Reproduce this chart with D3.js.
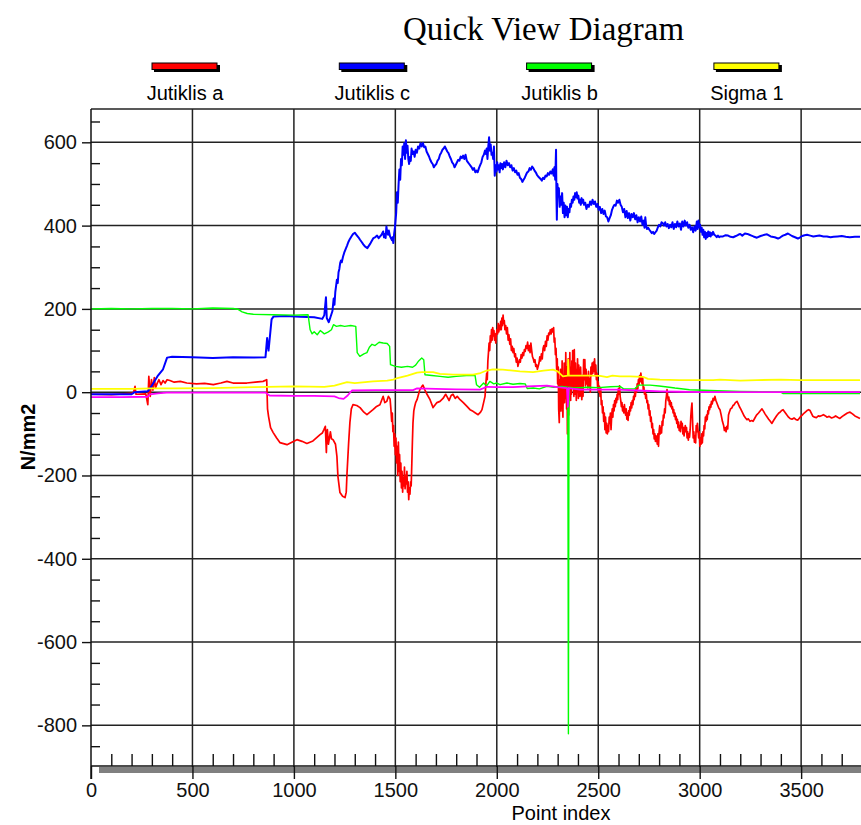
<!DOCTYPE html>
<html>
<head>
<meta charset="utf-8">
<title>Quick View Diagram</title>
<script src="https://cdnjs.cloudflare.com/ajax/libs/d3/7.8.5/d3.min.js"></script>
<style>
  body { margin: 0; background: #ffffff; }
  svg { display: block; font-family: Arial, "Liberation Sans", sans-serif; }
</style>
</head>
<body>
<script>
// Values, each pair is [point index, N/mm2]
var jutiklisA = [[0,-5],[100,-6],[200,-3],[210,0],[217,14],[222,-5],[270,-4],[280,-30],[285,38],[292,-10],[298,30],[305,5],[312,35],[318,10],[325,20],[335,30],[345,18],[355,28],[365,22],[375,30],[389,28],[410,24],[440,26],[472,22],[520,20],[560,21],[603,18],[640,22],[670,26],[700,22],[768,22],[810,24],[848,26],[866,30],[870,-40],[875,-58],[885,-85],[898,-97],[915,-110],[931,-121],[966,-126],[990,-120],[1015,-114],[1040,-118],[1064,-123],[1094,-117],[1115,-108],[1129,-102],[1140,-98],[1148,-90],[1155,-82],[1158,-120],[1160,-145],[1163,-95],[1165,-90],[1170,-125],[1175,-110],[1180,-95],[1185,-112],[1193,-114],[1205,-125],[1212,-154],[1217,-202],[1227,-241],[1240,-250],[1252,-253],[1258,-240],[1262,-193],[1270,-120],[1276,-73],[1283,-40],[1291,-30],[1310,-32],[1326,-37],[1345,-48],[1360,-54],[1375,-48],[1390,-42],[1405,-35],[1424,-30],[1432,-20],[1440,-10],[1448,-25],[1458,-22],[1466,-10],[1474,-16],[1478,-40],[1482,-70],[1485,-50],[1488,-95],[1491,-80],[1494,-130],[1497,-100],[1500,-150],[1503,-110],[1506,-170],[1509,-130],[1512,-200],[1515,-120],[1518,-190],[1521,-150],[1524,-215],[1527,-170],[1530,-230],[1533,-190],[1536,-240],[1539,-205],[1542,-225],[1545,-180],[1548,-232],[1551,-200],[1554,-220],[1557,-190],[1560,-240],[1563,-215],[1566,-258],[1569,-230],[1572,-245],[1575,-215],[1578,-225],[1581,-175],[1584,-120],[1587,-73],[1591,-45],[1595,-35],[1600,-25],[1607,-18],[1620,5],[1631,14],[1636,17],[1646,5],[1656,-5],[1671,-18],[1686,-37],[1705,-25],[1720,-22],[1735,-15],[1748,-5],[1754,-10],[1765,-20],[1775,-8],[1784,-5],[1795,-15],[1805,-10],[1819,-18],[1835,-25],[1853,-34],[1868,-42],[1883,-46],[1895,-50],[1908,-54],[1920,-48],[1927,-42],[1935,-25],[1942,-10],[1946,20],[1950,45],[1953,30],[1956,75],[1959,95],[1962,118],[1965,100],[1968,135],[1971,120],[1974,150],[1977,125],[1980,155],[1983,135],[1986,148],[1989,125],[1992,140],[1995,118],[1998,138],[2001,150],[2004,140],[2007,165],[2010,145],[2013,160],[2016,150],[2019,170],[2022,150],[2025,178],[2028,160],[2031,185],[2034,165],[2037,172],[2040,150],[2044,160],[2048,140],[2052,155],[2056,125],[2060,138],[2064,115],[2068,128],[2072,100],[2076,110],[2080,95],[2084,105],[2088,85],[2092,92],[2096,72],[2100,82],[2104,62],[2108,70],[2112,78],[2116,72],[2120,90],[2124,82],[2128,95],[2132,88],[2136,102],[2140,98],[2144,112],[2148,105],[2152,120],[2156,100],[2160,112],[2164,95],[2168,118],[2172,100],[2176,85],[2180,80],[2184,72],[2188,78],[2192,62],[2196,66],[2200,55],[2204,62],[2208,70],[2212,85],[2216,75],[2220,92],[2224,80],[2228,105],[2232,112],[2236,100],[2240,122],[2244,110],[2248,135],[2252,125],[2256,142],[2260,138],[2264,150],[2268,140],[2272,152],[2276,145],[2280,155],[2283,120],[2286,130],[2289,90],[2292,105],[2295,55],[2298,80],[2300,20],[2303,60],[2305,-40],[2308,-73],[2310,30],[2312,-20],[2314,55],[2316,-45],[2318,40],[2320,-10],[2322,75],[2324,-30],[2326,-60],[2328,40],[2330,-5],[2332,70],[2334,-25],[2336,50],[2338,-15],[2340,95],[2342,20],[2344,-40],[2346,60],[2348,-100],[2350,-30],[2352,80],[2354,-55],[2356,30],[2358,-10],[2360,95],[2362,20],[2364,-20],[2366,60],[2368,-5],[2370,75],[2372,10],[2374,100],[2376,25],[2378,85],[2380,-10],[2382,102],[2384,40],[2386,-5],[2388,70],[2390,10],[2392,-20],[2394,55],[2396,0],[2398,80],[2400,20],[2402,-15],[2404,65],[2406,0],[2408,45],[2410,-10],[2413,60],[2416,20],[2419,-18],[2422,40],[2425,-10],[2428,78],[2431,30],[2434,78],[2437,15],[2440,55],[2443,20],[2446,38],[2449,10],[2452,50],[2455,14],[2458,30],[2461,0],[2464,60],[2467,40],[2470,70],[2473,45],[2476,72],[2479,50],[2482,80],[2485,40],[2488,65],[2491,30],[2494,45],[2497,10],[2500,25],[2503,0],[2506,14],[2509,-10],[2512,10],[2515,-30],[2518,-20],[2521,-50],[2524,-35],[2527,-70],[2530,-50],[2533,-90],[2536,-60],[2539,-98],[2542,-75],[2545,-100],[2548,-80],[2551,-95],[2554,-60],[2557,-75],[2560,-50],[2563,-90],[2566,-60],[2569,-40],[2572,-60],[2575,-30],[2578,-45],[2581,-20],[2584,-35],[2587,-15],[2590,-25],[2593,-5],[2596,-18],[2599,8],[2602,-5],[2605,15],[2608,-10],[2611,-20],[2614,-35],[2617,-25],[2620,-45],[2623,-35],[2626,-50],[2629,-30],[2632,-45],[2635,-55],[2638,-40],[2641,-65],[2644,-50],[2647,-68],[2650,-45],[2653,-55],[2656,-35],[2659,-45],[2662,-25],[2665,-38],[2668,-20],[2671,-30],[2674,-10],[2677,-18],[2680,0],[2683,-10],[2686,10],[2689,0],[2692,20],[2695,8],[2698,30],[2701,18],[2704,40],[2707,25],[2710,46],[2713,30],[2716,20],[2719,35],[2722,5],[2725,12],[2728,-5],[2731,2],[2734,-15],[2737,-5],[2740,-25],[2743,-20],[2746,-40],[2749,-30],[2752,-55],[2755,-45],[2758,-70],[2761,-60],[2764,-85],[2767,-75],[2770,-100],[2773,-90],[2776,-112],[2779,-100],[2782,-118],[2785,-105],[2788,-110],[2791,-125],[2794,-100],[2797,-130],[2800,-95],[2803,-80],[2806,-100],[2809,-85],[2812,-98],[2815,-70],[2818,-80],[2821,-55],[2824,-62],[2827,-40],[2830,-50],[2833,-20],[2836,-10],[2839,6],[2842,-10],[2845,-20],[2848,-12],[2851,-30],[2854,-20],[2857,-35],[2860,-25],[2863,-40],[2866,-35],[2869,-50],[2872,-42],[2875,-58],[2878,-50],[2881,-66],[2884,-58],[2887,-75],[2890,-65],[2893,-85],[2896,-72],[2899,-92],[2902,-80],[2905,-95],[2908,-70],[2911,-85],[2914,-75],[2917,-100],[2920,-85],[2923,-105],[2926,-90],[2929,-80],[2932,-95],[2935,-85],[2938,-110],[2941,-95],[2944,-115],[2947,-100],[2950,-108],[2953,-90],[2956,-60],[2959,-40],[2962,-26],[2965,-70],[2968,-110],[2971,-95],[2974,-120],[2977,-105],[2980,-122],[2983,-80],[2986,-95],[2989,-75],[2992,-92],[2995,-110],[2998,-95],[3001,-130],[3004,-110],[3007,-125],[3010,-100],[3013,-122],[3016,-95],[3019,-105],[3022,-80],[3025,-88],[3028,-60],[3031,-70],[3034,-55],[3037,-66],[3040,-45],[3043,-52],[3046,-35],[3049,-42],[3052,-30],[3055,-36],[3058,-22],[3062,-28],[3066,-15],[3070,-20],[3075,-10],[3080,-20],[3088,-30],[3094,-38],[3100,-42],[3106,-55],[3112,-70],[3118,-80],[3122,-92],[3126,-85],[3130,-95],[3134,-82],[3138,-88],[3142,-55],[3146,-48],[3152,-40],[3158,-38],[3164,-32],[3170,-30],[3176,-25],[3184,-22],[3190,-28],[3196,-35],[3202,-40],[3208,-46],[3214,-52],[3220,-58],[3226,-62],[3233,-66],[3240,-64],[3248,-70],[3256,-68],[3263,-70],[3272,-62],[3280,-55],[3290,-50],[3300,-44],[3307,-40],[3315,-46],[3322,-52],[3330,-58],[3340,-65],[3348,-70],[3356,-75],[3364,-68],[3372,-62],[3380,-56],[3390,-50],[3396,-48],[3404,-44],[3411,-42],[3420,-48],[3430,-55],[3438,-60],[3445,-63],[3455,-65],[3465,-62],[3475,-66],[3484,-67],[3495,-60],[3505,-55],[3515,-50],[3522,-47],[3529,-44],[3537,-42],[3544,-44],[3552,-52],[3558,-58],[3566,-60],[3575,-61],[3585,-57],[3593,-58],[3602,-56],[3610,-54],[3620,-57],[3627,-60],[3638,-58],[3650,-62],[3660,-60],[3670,-57],[3680,-60],[3691,-63],[3703,-58],[3715,-54],[3728,-50],[3741,-48],[3753,-52],[3765,-57],[3778,-60],[3790,-63]];

var jutiklisC = [[0,-5],[200,-5],[215,0],[280,2],[295,12],[330,40],[355,55],[375,83],[400,85],[500,84],[600,82],[700,84],[800,83],[860,84],[868,130],[875,100],[890,175],[900,182],[960,183],[1030,181],[1100,180],[1140,176],[1150,185],[1158,228],[1162,178],[1172,168],[1180,180],[1190,195],[1196,225],[1200,210],[1204,240],[1208,255],[1212,270],[1216,262],[1220,288],[1224,296],[1228,310],[1232,316],[1236,312],[1242,325],[1248,335],[1256,345],[1262,352],[1268,360],[1276,368],[1285,375],[1292,380],[1300,383],[1308,378],[1318,372],[1326,366],[1335,360],[1342,355],[1350,350],[1362,346],[1370,352],[1378,358],[1385,364],[1392,370],[1400,372],[1410,376],[1418,370],[1425,374],[1432,378],[1440,386],[1444,372],[1448,380],[1452,370],[1456,398],[1460,384],[1464,378],[1468,388],[1474,374],[1478,370],[1483,365],[1486,372],[1490,358],[1494,380],[1498,395],[1504,430],[1508,480],[1512,455],[1516,500],[1520,535],[1524,510],[1528,560],[1532,545],[1536,590],[1540,570],[1544,598],[1548,560],[1552,605],[1556,575],[1560,592],[1564,560],[1568,548],[1572,565],[1576,555],[1580,585],[1585,572],[1590,578],[1595,565],[1600,582],[1606,575],[1612,590],[1618,585],[1624,598],[1630,590],[1636,598],[1642,588],[1648,590],[1654,578],[1660,572],[1666,566],[1672,558],[1678,552],[1684,548],[1690,540],[1696,545],[1702,548],[1708,556],[1714,560],[1720,570],[1726,575],[1732,582],[1738,585],[1744,590],[1750,584],[1756,578],[1762,574],[1768,566],[1774,560],[1780,552],[1786,548],[1792,540],[1798,546],[1804,552],[1810,558],[1816,556],[1822,566],[1828,562],[1834,568],[1840,560],[1846,570],[1852,556],[1858,552],[1864,548],[1870,544],[1876,540],[1882,534],[1888,538],[1894,528],[1900,532],[1906,528],[1912,538],[1918,545],[1924,552],[1930,565],[1936,570],[1942,580],[1946,572],[1950,585],[1954,560],[1958,590],[1962,612],[1966,580],[1970,595],[1974,570],[1978,575],[1982,560],[1986,590],[1990,520],[1994,545],[1998,530],[2002,552],[2006,535],[2010,545],[2014,528],[2018,550],[2022,538],[2026,548],[2030,535],[2036,552],[2042,540],[2048,556],[2054,545],[2060,550],[2066,540],[2072,545],[2078,532],[2084,538],[2090,528],[2096,532],[2102,522],[2108,526],[2114,515],[2120,512],[2126,505],[2132,510],[2138,515],[2144,522],[2150,528],[2156,530],[2162,538],[2168,534],[2174,542],[2180,538],[2186,532],[2192,528],[2198,522],[2204,518],[2210,515],[2216,512],[2222,508],[2228,515],[2234,512],[2240,520],[2246,518],[2252,526],[2258,522],[2264,530],[2270,525],[2276,535],[2280,520],[2284,540],[2288,510],[2292,582],[2294,470],[2296,414],[2299,500],[2302,470],[2306,490],[2310,445],[2314,470],[2318,450],[2322,478],[2326,430],[2330,455],[2334,420],[2338,448],[2342,425],[2346,445],[2350,420],[2354,440],[2358,432],[2362,452],[2366,445],[2370,462],[2374,455],[2378,470],[2382,462],[2386,478],[2390,468],[2394,480],[2398,465],[2402,472],[2406,455],[2410,462],[2414,450],[2418,466],[2422,455],[2426,462],[2430,450],[2436,455],[2442,440],[2448,450],[2454,445],[2460,458],[2466,450],[2472,462],[2478,452],[2484,458],[2490,445],[2496,452],[2502,438],[2508,445],[2514,430],[2520,440],[2526,428],[2532,436],[2538,422],[2544,420],[2550,410],[2556,418],[2562,425],[2568,438],[2574,445],[2580,450],[2586,448],[2592,460],[2598,455],[2604,462],[2610,450],[2616,445],[2622,432],[2628,440],[2634,420],[2640,435],[2646,418],[2652,430],[2658,412],[2664,428],[2670,420],[2676,430],[2682,415],[2688,425],[2694,408],[2700,420],[2706,410],[2712,422],[2718,402],[2724,412],[2728,395],[2732,420],[2736,400],[2740,392],[2746,395],[2752,390],[2758,386],[2764,382],[2770,385],[2776,380],[2782,384],[2788,388],[2794,396],[2800,402],[2806,398],[2812,408],[2818,406],[2824,400],[2830,408],[2836,398],[2842,404],[2848,394],[2854,402],[2860,396],[2866,408],[2872,392],[2878,404],[2884,396],[2890,410],[2896,398],[2902,405],[2908,390],[2914,410],[2920,398],[2926,412],[2932,400],[2938,408],[2944,395],[2950,402],[2956,390],[2962,396],[2968,384],[2974,398],[2980,388],[2986,410],[2990,392],[2994,412],[2998,396],[3002,402],[3006,385],[3010,395],[3014,378],[3018,390],[3022,372],[3026,385],[3030,368],[3034,382],[3038,372],[3042,386],[3046,375],[3050,384],[3054,374],[3058,382],[3062,378],[3066,385],[3072,378],[3078,376],[3084,372],[3090,376],[3096,372],[3102,374],[3115,374],[3128,377],[3140,376],[3152,373],[3165,372],[3178,375],[3190,378],[3200,380],[3210,376],[3223,381],[3235,380],[3245,378],[3255,376],[3265,374],[3282,371],[3300,375],[3320,378],[3332,379],[3350,374],[3370,372],[3386,369],[3398,372],[3410,376],[3422,378],[3435,381],[3445,378],[3455,375],[3470,372],[3484,369],[3495,372],[3505,375],[3517,377],[3529,378],[3545,376],[3560,374],[3575,375],[3590,376],[3610,374],[3627,374],[3645,372],[3660,373],[3680,374],[3700,375],[3720,373],[3740,372],[3765,373],[3790,373]];

var jutiklisB = [[0,200],[100,201],[200,200],[300,201],[400,201],[500,200],[600,202],[700,201],[725,199],[745,193],[770,189],[800,187],[900,186],[1000,185],[1070,186],[1080,150],[1090,140],[1100,145],[1115,138],[1130,148],[1150,140],[1170,145],[1185,150],[1195,162],[1210,158],[1230,160],[1250,158],[1280,160],[1305,158],[1312,95],[1325,86],[1345,92],[1360,95],[1372,108],[1385,115],[1400,112],[1420,120],[1440,118],[1460,117],[1472,110],[1476,66],[1500,62],[1530,60],[1560,62],[1585,60],[1600,65],[1615,75],[1630,82],[1640,78],[1646,42],[1680,40],[1720,38],[1760,36],[1800,38],[1850,40],[1893,40],[1900,18],[1915,12],[1935,22],[1950,15],[1966,26],[1985,20],[2000,22],[2016,18],[2050,22],[2080,19],[2114,21],[2140,20],[2150,9],[2180,10],[2210,8],[2247,14],[2280,12],[2320,14],[2350,12],[2353,-820],[2356,12],[2380,10],[2410,11],[2450,12],[2500,11],[2560,13],[2607,14],[2625,8],[2680,8],[2700,17],[2755,17],[2800,15],[2850,12],[2878,10],[2950,6],[3050,4],[3199,2],[3300,1],[3400,0],[3410,-3],[3600,-3],[3790,-3]];

var sigma1 = [[0,8],[200,8],[300,9],[400,9],[600,10],[800,12],[1000,14],[1150,13],[1200,16],[1262,24],[1300,22],[1390,26],[1460,28],[1490,30],[1510,34],[1560,40],[1607,47],[1631,48],[1686,48],[1720,44],[1784,42],[1883,42],[1920,46],[1950,52],[1981,55],[2030,54],[2080,52],[2114,50],[2179,48],[2230,52],[2277,54],[2300,50],[2326,38],[2350,40],[2352,78],[2355,40],[2410,40],[2460,40],[2509,39],[2543,36],[2570,40],[2607,38],[2656,38],[2720,37],[2745,32],[2804,30],[2900,29],[3066,29],[3100,30],[3200,28],[3282,29],[3400,30],[3494,29],[3600,29],[3790,29]];

// fifth trace, not in the legend
var magentaTrace = [[0,-12],[150,-12],[280,-11],[290,-5],[330,-3],[373,-1],[500,-1],[700,-1],[860,-1],[880,-8],[1000,-9],[1100,-9],[1200,-10],[1220,-14],[1245,-16],[1265,-8],[1286,4],[1400,5],[1500,5],[1587,5],[1607,9],[1700,8],[1800,7],[1917,6],[1952,13],[2000,12],[2080,12],[2150,14],[2247,16],[2300,12],[2346,10],[2350,-35],[2355,10],[2410,6],[2500,6],[2600,6],[2700,4],[2804,2],[2900,1],[3000,0],[3200,0],[3400,0],[3790,0]];

var legendNames = ["Jutiklis a", "Jutiklis c", "Jutiklis b", "Sigma 1"];
var xTicks = [0, 500, 1000, 1500, 2000, 2500, 3000, 3500];
var yTicks = [-800, -600, -400, -200, 0, 200, 400, 600];

window.onload = drawChart();

function drawChart(){

  var width = 861,
      height = 825;

  // plot frame in pixels
  var left = 91, right = 862, top = 109, bottom = 767;

  var svg = d3.select("body")
    .append("svg")
    .attr("width", width)
    .attr("height", height);

  var x = d3.scaleLinear().domain([0, 3800]).range([left, right]);
  var y = d3.scaleLinear().domain([-900, 680]).range([bottom, top]);

  // plain labels: no thousands comma, ascii minus
  var plain = function(d){ return String(d); };

  // title
  svg.append("text")
    .attr("x", 403)
    .attr("y", 40)
    .attr("textLength", 281)
    .attr("lengthAdjust", "spacingAndGlyphs")
    .style("font-family", "'Liberation Serif', 'Times New Roman', serif")
    .style("font-size", "34px")
    .text("Quick View Diagram");

  var series = [
    {name: legendNames[0], values: jutiklisA, color: "#ff0000", w: 1.7},
    {name: legendNames[1], values: jutiklisC, color: "#0000ff", w: 2},
    {name: legendNames[2], values: jutiklisB, color: "#00ff00", w: 1.4},
    {name: legendNames[3], values: sigma1, color: "#ffff00", w: 1.8},
    {name: null, values: magentaTrace, color: "#ff00ff", w: 1.8}
  ];

  // legend, one swatch per named series
  var legend = svg.selectAll(".legend")
    .data(series.filter(function(d){ return d.name; }))
    .enter().append("g")
    .attr("class", "legend")
    .attr("transform", function(d, i){ return "translate(" + (185 + i * 187.3) + ",0)"; });

  legend.append("rect")
    .attr("x", -31).attr("y", 65)
    .attr("width", 66).attr("height", 7)
    .attr("fill", "#000");
  legend.append("rect")
    .attr("x", -33).attr("y", 63)
    .attr("width", 65).attr("height", 6.5)
    .attr("fill", function(d){ return d.color; })
    .attr("stroke", "#000")
    .attr("stroke-width", 1);
  legend.append("text")
    .attr("x", 0).attr("y", 100)
    .attr("text-anchor", "middle")
    .style("font-size", "20px")
    .text(function(d){ return d.name; });

  // grid lines
  var grid = svg.append("g").attr("class", "grid");
  grid.selectAll("line.gx")
    .data(xTicks.slice(1))
    .enter().append("line")
    .attr("class", "gx")
    .attr("x1", function(d){ return x(d); })
    .attr("x2", function(d){ return x(d); })
    .attr("y1", top)
    .attr("y2", bottom);
  grid.selectAll("line.gy")
    .data(yTicks)
    .enter().append("line")
    .attr("class", "gy")
    .attr("x1", left)
    .attr("x2", right)
    .attr("y1", function(d){ return y(d); })
    .attr("y2", function(d){ return y(d); });
  grid.selectAll("line")
    .attr("stroke", "#222")
    .attr("stroke-width", 1.5);

  // top border of the frame
  svg.append("line")
    .attr("x1", left).attr("x2", right)
    .attr("y1", top).attr("y2", top)
    .attr("stroke", "#222").attr("stroke-width", 1.5);

  // grey bar under the x axis
  svg.append("rect")
    .attr("x", 99).attr("y", 767)
    .attr("width", right - 99).attr("height", 6)
    .attr("fill", "#808080");

  // data traces, clipped to the frame
  svg.append("clipPath")
    .attr("id", "plotClip")
    .append("rect")
    .attr("x", left).attr("y", top)
    .attr("width", right - left).attr("height", bottom - top);

  var line = d3.line()
    .x(function(d){ return x(d[0]); })
    .y(function(d){ return y(d[1]); });

  svg.append("g")
    .attr("clip-path", "url(#plotClip)")
    .selectAll("path")
    .data(series)
    .enter().append("path")
    .attr("d", function(d){ return line(d.values); })
    .attr("fill", "none")
    .attr("stroke", function(d){ return d.color; })
    .attr("stroke-width", function(d){ return d.w; })
    .attr("stroke-linejoin", "round");

  // y axis: major ticks with labels, minor ticks inside the frame
  svg.append("g")
    .attr("transform", "translate(" + left + ",0)")
    .call(d3.axisLeft(y).tickValues(yTicks).tickFormat(plain).tickSize(9).tickSizeOuter(0).tickPadding(5));
  var yMinor = d3.range(-850, 680, 50).filter(function(v){ return yTicks.indexOf(v) < 0; });
  svg.append("g")
    .attr("transform", "translate(" + left + ",0)")
    .call(d3.axisRight(y).tickValues(yMinor).tickSize(9).tickSizeOuter(0).tickFormat(""));

  // x axis: major ticks with labels, minor ticks pointing up
  svg.append("g")
    .attr("transform", "translate(0," + (bottom - 1) + ")")
    .call(d3.axisBottom(x).tickValues(xTicks).tickFormat(plain).tickSize(13).tickSizeOuter(0).tickPadding(4));
  var xMinor = d3.range(100, 3800, 100).filter(function(v){ return xTicks.indexOf(v) < 0; });
  svg.append("g")
    .attr("transform", "translate(0," + (bottom - 1) + ")")
    .call(d3.axisTop(x).tickValues(xMinor).tickSize(12).tickSizeOuter(0).tickFormat(""));

  svg.selectAll(".domain").remove();
  svg.selectAll(".tick line").attr("stroke", "#111").attr("stroke-width", 1.4);
  svg.selectAll(".tick text")
    .attr("fill", "#111")
    .style("font-size", "20px")
    .style("font-family", "Arial, 'Liberation Sans', sans-serif");

  // axis lines
  svg.append("line")
    .attr("x1", left).attr("x2", left)
    .attr("y1", top).attr("y2", bottom + 12)
    .attr("stroke", "#111").attr("stroke-width", 1.5);
  svg.append("line")
    .attr("x1", left).attr("x2", right)
    .attr("y1", bottom - 1).attr("y2", bottom - 1)
    .attr("stroke", "#111").attr("stroke-width", 1.5);

  // axis titles
  svg.append("text")
    .attr("x", 561)
    .attr("y", 820)
    .attr("text-anchor", "middle")
    .style("font-size", "20px")
    .text("Point index");

  svg.append("text")
    .attr("transform", "translate(35,437) rotate(-90)")
    .attr("text-anchor", "middle")
    .style("font-size", "20px")
    .style("font-weight", "bold")
    .text("N/mm2");
};
</script>
</body>
</html>
